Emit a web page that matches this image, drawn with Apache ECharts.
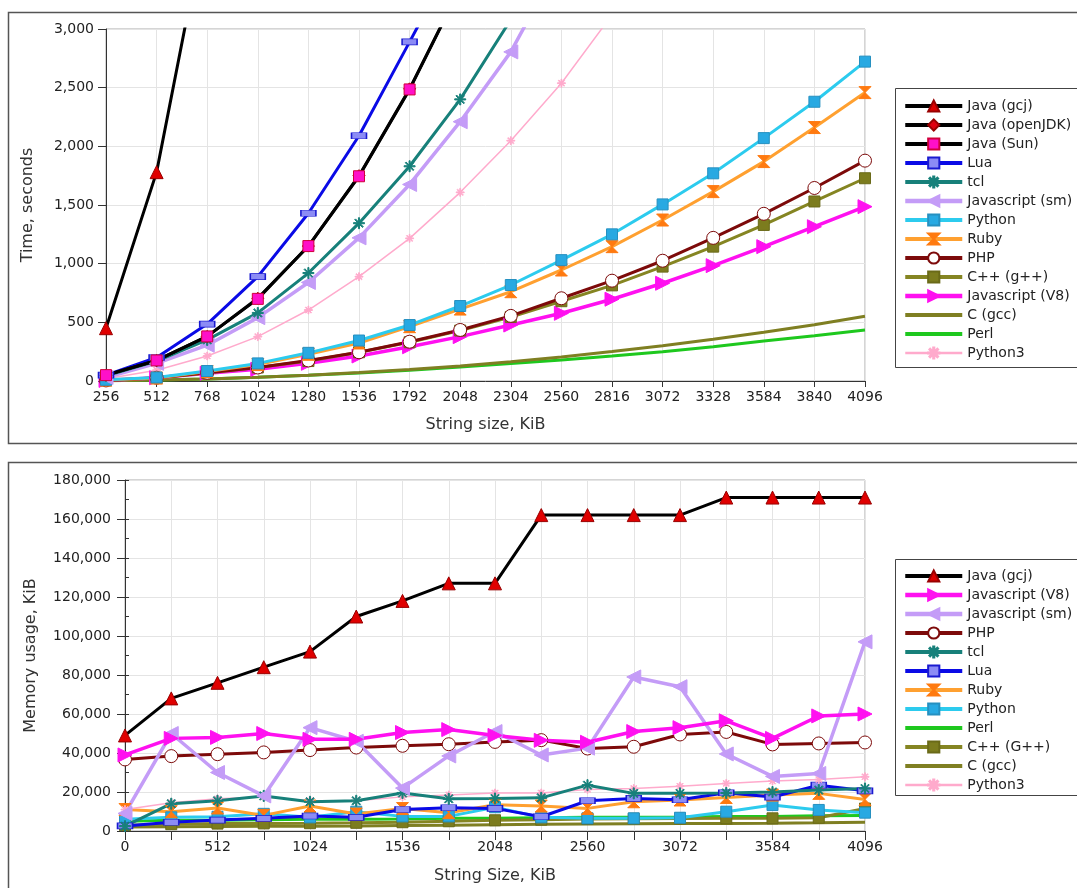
<!DOCTYPE html>
<html>
<head>
<meta charset="utf-8">
<script src="https://cdn.jsdelivr.net/npm/echarts@6.0.0/dist/echarts.min.js"></script>
<style>
  html, body { margin: 0; padding: 0; background: #fff; }
  #chart { width: 1077px; height: 888px; }
</style>
</head>
<body>
<div id="chart"></div>
<script>
// string sizes, KiB
const sizesTop = [256, 512, 768, 1024, 1280, 1536, 1792, 2048, 2304, 2560, 2816, 3072, 3328, 3584, 3840, 4096]
const sizesBottom = [0, 256, 512, 768, 1024, 1280, 1536, 1792, 2048, 2304, 2560, 2816, 3072, 3328, 3584, 3840, 4096]

// time, seconds (series that leave the plot stop one point past the top)
const javaGcjTime = [450, 1780, 3980]
const javaOpenJdkTime = [50, 175, 380, 705, 1150, 1750, 2490, 3350]
const javaSunTime = [50, 175, 380, 700, 1150, 1745, 2485, 3350]
const luaTime = [50, 200, 485, 890, 1430, 2090, 2890, 3700]
const tclTime = [45, 170, 350, 580, 920, 1345, 1830, 2400, 3080]
const jsSmTime = [30, 150, 305, 540, 840, 1220, 1675, 2210, 2805, 3600]
const pythonTime = [10, 30, 85, 150, 240, 345, 477, 639, 818, 1030, 1250, 1505, 1770, 2070, 2380, 2722]
const rubyTime = [8, 25, 80, 140, 228, 324, 463, 613, 761, 946, 1145, 1372, 1614, 1870, 2160, 2458]
const phpTime = [5, 28, 70, 115, 175, 245, 335, 435, 555, 705, 855, 1025, 1220, 1425, 1645, 1878]
const cppTime = [5, 25, 68, 115, 170, 245, 330, 430, 545, 680, 815, 975, 1145, 1330, 1530, 1728]
const jsV8Time = [5, 28, 66, 100, 151, 213, 292, 378, 477, 577, 697, 833, 983, 1145, 1315, 1486]
const cGccTime = [2, 8, 18, 33, 50, 72, 98, 128, 165, 205, 252, 300, 355, 415, 480, 552]
const perlTime = [2, 8, 18, 32, 48, 68, 92, 120, 150, 180, 213, 250, 292, 340, 385, 435]
const python3Time = [20, 92, 213, 378, 605, 889, 1216, 1608, 2048, 2538, 3120]

// memory usage, KiB
const javaGcjMem = [49000, 68000, 76000, 84000, 92000, 110000, 118000, 127000, 127000, 162000, 162000, 162000, 162000, 171000, 171000, 171000, 171000]
const jsV8Mem = [39000, 47500, 48000, 50000, 47000, 47000, 50500, 52000, 49000, 46500, 45500, 51000, 53000, 56500, 47500, 59000, 60000]
const jsSmMem = [9000, 50000, 30000, 18000, 53000, 46000, 22000, 38500, 51000, 39000, 42500, 79000, 74000, 39500, 28000, 29500, 97000]
const phpMem = [36700, 38400, 39400, 40300, 41500, 42800, 43700, 44500, 45700, 46600, 42300, 43200, 49500, 50800, 44400, 44900, 45400]
const tclMem = [2500, 14000, 15500, 18000, 15000, 15500, 19500, 16500, 16700, 17000, 23500, 19300, 19300, 19500, 20000, 21000, 21800]
const luaMem = [2600, 4500, 5600, 6500, 7700, 7000, 11000, 11900, 11600, 7300, 15500, 16700, 16000, 19600, 17400, 23500, 20600]
const rubyMem = [11000, 9900, 11800, 8000, 12800, 8700, 11500, 9400, 13500, 12800, 11600, 15000, 15900, 17200, 18400, 19300, 16200]
const pythonMem = [6000, 7000, 7300, 8800, 7000, 9900, 7500, 7500, 12200, 7000, 6500, 6500, 6800, 9900, 13300, 10800, 9400]
const perlMem = [5000, 5500, 5500, 5800, 6000, 6000, 6200, 6500, 6500, 6800, 7000, 7000, 7200, 7500, 7500, 7800, 8000]
const cppMem = [3000, 3500, 3800, 3900, 4000, 4200, 4500, 5000, 5500, 5800, 6200, 6300, 6400, 6500, 6500, 6800, 11500]
const cGccMem = [2000, 2200, 2300, 2400, 2500, 2600, 2800, 3000, 3200, 3400, 3600, 3700, 3800, 3900, 4000, 4200, 4500]
const python3Mem = [11000, 14500, 16500, 17500, 15500, 15500, 17500, 18500, 19500, 19500, 21300, 21800, 23000, 24400, 25600, 26400, 27800]

const legendTop = ['Java (gcj)', 'Java (openJDK)', 'Java (Sun)', 'Lua', 'tcl', 'Javascript (sm)', 'Python', 'Ruby', 'PHP', 'C++ (g++)', 'Javascript (V8)', 'C (gcc)', 'Perl', 'Python3']
const legendBottom = ['Java (gcj)', 'Javascript (V8)', 'Javascript (sm)', 'PHP', 'tcl', 'Lua', 'Ruby', 'Python', 'Perl', 'C++ (G++)', 'C (gcc)', 'Python3']

const FONT = 'DejaVu Sans'
const asterisk = 'path://M9,0h2v7.6l5.4-5.4 1.4,1.4L12.4,9H20v2h-7.6l5.4,5.4-1.4,1.4L11,12.4V20H9v-7.6l-5.4,5.4-1.4-1.4L7.6,11H0V9h7.6L2.2,3.6l1.4-1.4L9,7.6z'
const hourglass = 'path://M0,0H10L5,5L10,10H0L5,5Z'
const plusSign = 'path://M4.2,0h1.6v4.2h4.2v1.6h-4.2v4.2h-1.6v-4.2h-4.2v-1.6h4.2z'

// look of each language
const styles = {
  'Java (gcj)': { line: '#000', width: 3, symbol: 'triangle', size: 13, fill: '#e00000', border: '#900' },
  'Java (openJDK)': { line: '#000', width: 3, symbol: 'diamond', size: 12, fill: '#e00010', border: '#900' },
  'Java (Sun)': { line: '#000', width: 3, symbol: 'rect', size: 11, fill: '#ff10c8', border: '#d0003a' },
  'Lua': { line: '#0a0ae6', width: 3, symbol: 'rect', size: [15, 6], fill: '#8c8cf5', border: '#1a1ad0' },
  'tcl': { line: '#17807a', width: 3, symbol: asterisk, size: 11, fill: '#17807a', border: '#17807a' },
  'Javascript (sm)': { line: '#c49cf7', width: 3.5, symbol: 'triangle', rotate: 90, size: 14, fill: '#c49cf7', border: '#c49cf7' },
  'Python': { line: '#2ccbee', width: 3, symbol: 'rect', size: 11, fill: '#28a9e2', border: '#2690c0' },
  'Ruby': { line: '#ffa030', width: 3, symbol: hourglass, size: 12, fill: '#ff7a10', border: '#ff7a10' },
  'PHP': { line: '#7d0a0a', width: 3, symbol: 'circle', size: 13, fill: '#fff', border: '#7d0a0a' },
  'C++ (g++)': { line: '#858522', width: 3, symbol: 'rect', size: 11, fill: '#7c7c1e', border: '#6a6a18', cross: true },
  'C++ (G++)': { line: '#858522', width: 3, symbol: 'rect', size: 11, fill: '#7c7c1e', border: '#6a6a18', cross: true },
  'Javascript (V8)': { line: '#ff10f0', width: 3.5, symbol: 'triangle', rotate: -90, size: 14, fill: '#ff10f0', border: '#ff10f0' },
  'C (gcc)': { line: '#7f7f22', width: 3, symbol: 'none' },
  'Perl': { line: '#1ec81e', width: 3, symbol: 'none' },
  'Python3': { line: '#ffaacc', width: 1.5, symbol: asterisk, size: 8, fill: '#ffaacc', border: '#ffaacc' }
}

function makeSeries (name, xs, ys, idx) {
  const s = styles[name]
  const out = [{
    name: name,
    type: 'line',
    xAxisIndex: idx,
    yAxisIndex: idx,
    data: ys.map((v, i) => [xs[i], v]),
    symbol: s.symbol,
    symbolSize: s.size,
    symbolRotate: s.rotate || 0,
    showSymbol: s.symbol !== 'none',
    lineStyle: { color: s.line, width: s.width },
    itemStyle: { color: s.fill || s.line, borderColor: s.border || s.line, borderWidth: 1 },
    emphasis: { disabled: true },
    animation: false
  }]
  if (s.cross) {
    // yellow plus drawn over the olive squares
    out.push({
      name: name + ' mark',
      type: 'scatter',
      xAxisIndex: idx,
      yAxisIndex: idx,
      data: ys.map((v, i) => [xs[i], v]),
      symbol: plusSign,
      symbolSize: 10,
      itemStyle: { color: '#f4f070' },
      emphasis: { disabled: true },
      silent: true,
      animation: false
    })
  }
  return out
}

function thousands (v) {
  return String(v).replace(/\B(?=(\d{3})+(?!\d))/g, ',')
}

function legendItems (names) {
  return names.map(n => {
    const s = styles[n]
    const item = { name: n, lineStyle: { width: s.width + 1 } }
    if (s.symbol === 'none') item.itemStyle = { opacity: 0 }
    return item
  })
}

const seriesTop = [].concat(
  makeSeries('Python3', sizesTop, python3Time, 0),
  makeSeries('Perl', sizesTop, perlTime, 0),
  makeSeries('C (gcc)', sizesTop, cGccTime, 0),
  makeSeries('Javascript (V8)', sizesTop, jsV8Time, 0),
  makeSeries('C++ (g++)', sizesTop, cppTime, 0),
  makeSeries('PHP', sizesTop, phpTime, 0),
  makeSeries('Ruby', sizesTop, rubyTime, 0),
  makeSeries('Python', sizesTop, pythonTime, 0),
  makeSeries('Javascript (sm)', sizesTop, jsSmTime, 0),
  makeSeries('tcl', sizesTop, tclTime, 0),
  makeSeries('Lua', sizesTop, luaTime, 0),
  makeSeries('Java (openJDK)', sizesTop, javaOpenJdkTime, 0),
  makeSeries('Java (Sun)', sizesTop, javaSunTime, 0),
  makeSeries('Java (gcj)', sizesTop, javaGcjTime, 0)
)
const seriesBottom = [].concat(
  makeSeries('C (gcc)', sizesBottom, cGccMem, 1),
  makeSeries('Perl', sizesBottom, perlMem, 1),
  makeSeries('C++ (G++)', sizesBottom, cppMem, 1),
  makeSeries('Python', sizesBottom, pythonMem, 1),
  makeSeries('Ruby', sizesBottom, rubyMem, 1),
  makeSeries('Lua', sizesBottom, luaMem, 1),
  makeSeries('Python3', sizesBottom, python3Mem, 1),
  makeSeries('tcl', sizesBottom, tclMem, 1),
  makeSeries('PHP', sizesBottom, phpMem, 1),
  makeSeries('Javascript (sm)', sizesBottom, jsSmMem, 1),
  makeSeries('Javascript (V8)', sizesBottom, jsV8Mem, 1),
  makeSeries('Java (gcj)', sizesBottom, javaGcjMem, 1)
)

const axisText = { color: '#222', fontFamily: FONT, fontSize: 14 }
const nameText = { color: '#333', fontFamily: FONT, fontSize: 16 }
const darkLine = { show: true, lineStyle: { color: '#333', width: 1 } }
const gridLine = { show: true, lineStyle: { color: '#e4e4e4', width: 1 } }

const legendCommon = {
  orient: 'vertical',
  left: 903,
  padding: 0,
  itemWidth: 57,
  itemHeight: 14,
  itemGap: 5,
  selectedMode: false,
  textStyle: { color: '#222', fontFamily: FONT, fontSize: 14 }
}

const option = {
  animation: false,
  backgroundColor: '#fff',
  textStyle: { fontFamily: FONT },
  grid: [
    { left: 106, top: 29, width: 759, height: 352, show: true, borderColor: '#aaa', borderWidth: 1 },
    { left: 125, top: 480, width: 740, height: 351, show: true, borderColor: '#aaa', borderWidth: 1 }
  ],
  xAxis: [
    {
      gridIndex: 0, type: 'value', min: 256, max: 4096, interval: 256,
      name: 'String size, KiB', nameLocation: 'middle', nameGap: 36, nameTextStyle: nameText,
      axisLine: darkLine, axisTick: { show: true, length: 6, lineStyle: { color: '#333' } },
      axisLabel: Object.assign({ margin: 9, formatter: v => String(v) }, axisText), splitLine: gridLine
    },
    {
      gridIndex: 1, type: 'value', min: 0, max: 4096, interval: 256,
      name: 'String Size, KiB', nameLocation: 'middle', nameGap: 37, nameTextStyle: nameText,
      axisLine: darkLine, axisTick: { show: true, length: 9, lineStyle: { color: '#333' } },
      axisLabel: Object.assign({ margin: 9, formatter: v => (v % 512 === 0 ? String(v) : '') }, axisText),
      splitLine: gridLine
    }
  ],
  yAxis: [
    {
      gridIndex: 0, type: 'value', min: 0, max: 3000, interval: 500,
      name: 'Time, seconds', nameLocation: 'middle', nameGap: 70, nameRotate: 90, nameTextStyle: nameText,
      axisLine: darkLine, axisTick: { show: true, length: 8, lineStyle: { color: '#333' } },
      axisLabel: Object.assign({ margin: 12, formatter: thousands }, axisText), splitLine: gridLine
    },
    {
      gridIndex: 1, type: 'value', min: 0, max: 180000, interval: 20000,
      name: 'Memory usage, KiB', nameLocation: 'middle', nameGap: 86, nameRotate: 90, nameTextStyle: nameText,
      axisLine: darkLine, axisTick: { show: true, length: 8, lineStyle: { color: '#333' } },
      axisLabel: Object.assign({ margin: 14, formatter: thousands }, axisText), splitLine: gridLine
    },
    {
      // inner ticks every 10,000
      gridIndex: 1, type: 'value', min: 0, max: 180000, interval: 10000, position: 'left',
      axisLine: { show: false }, axisLabel: { show: false }, splitLine: { show: false },
      axisTick: { show: true, inside: true, length: 4, lineStyle: { color: '#333' } }
    }
  ],
  legend: [
    Object.assign({ top: 99, data: legendItems(legendTop) }, legendCommon),
    Object.assign({ top: 569, data: legendItems(legendBottom) }, legendCommon)
  ],
  graphic: [
    { type: 'rect', shape: { x: 8.5, y: 12.5, width: 1100, height: 431 }, style: { fill: 'none', stroke: '#555', lineWidth: 1.5 } },
    { type: 'rect', shape: { x: 8.5, y: 462.5, width: 1100, height: 440 }, style: { fill: 'none', stroke: '#555', lineWidth: 1.5 } },
    { type: 'rect', shape: { x: 895.5, y: 88.5, width: 200, height: 279 }, style: { fill: 'none', stroke: '#444', lineWidth: 1 } },
    { type: 'rect', shape: { x: 895.5, y: 559.5, width: 200, height: 236 }, style: { fill: 'none', stroke: '#444', lineWidth: 1 } }
  ],
  series: seriesTop.concat(seriesBottom)
}

const chart = echarts.init(document.getElementById('chart'), null, { renderer: 'canvas' })
chart.setOption(option)
</script>
</body>
</html>
